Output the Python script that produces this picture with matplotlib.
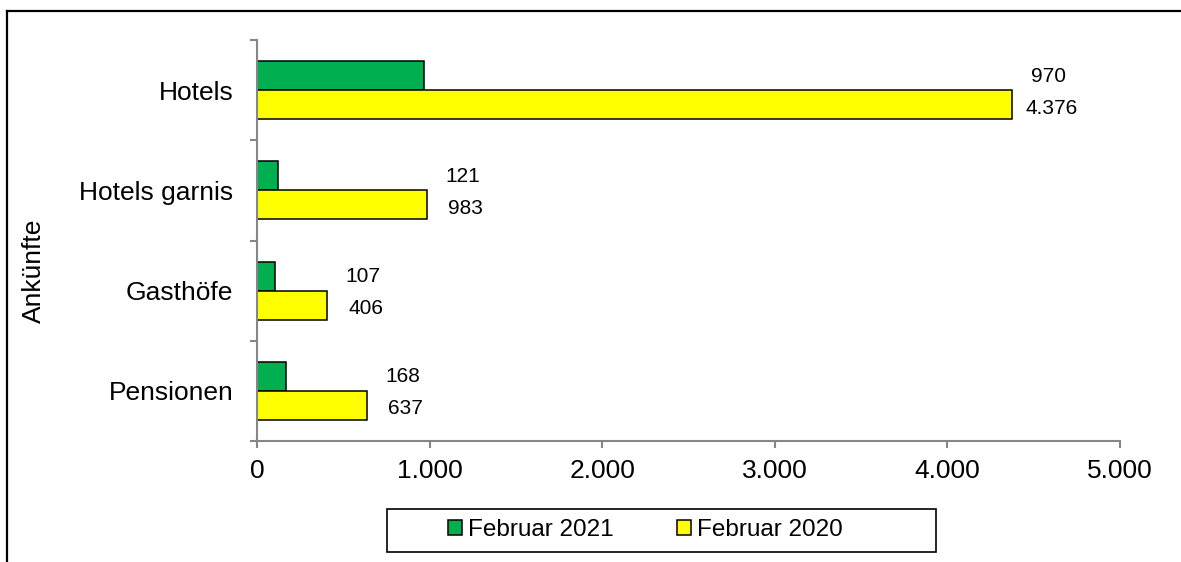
import matplotlib
matplotlib.use("Agg")
import matplotlib.pyplot as plt
import numpy as np
from matplotlib.patches import Patch, Rectangle
from matplotlib.lines import Line2D
from matplotlib.ticker import FuncFormatter

# Daten (Ankünfte)
kategorien = ["Hotels", "Hotels garnis", "Gasthöfe", "Pensionen"]
feb_2021 = [970, 121, 107, 168]
feb_2020 = [4376, 983, 406, 637]
serien = ["Februar 2021", "Februar 2020"]

gruen = "#00B050"
gelb = "#FFFF00"
grau = "#868686"

plt.rcParams['font.family'] = ['Liberation Sans', 'DejaVu Sans']

W, H = 1181, 562
fig = plt.figure(figsize=(W / 100, H / 100), dpi=100)
ax = fig.add_axes([257 / W, 1 - 441 / H, (1120 - 257) / W, (441 - 40) / H])

y = np.arange(len(kategorien))[::-1]
h = 0.29
ax.barh(y + h / 2, feb_2021, height=h, color=gruen, edgecolor="black", linewidth=1.1)
ax.barh(y - h / 2, feb_2020, height=h, color=gelb, edgecolor="black", linewidth=1.1)

def punkt(v):
    return f"{v:,}".replace(",", ".")

# Beschriftungen rechts vom gelben Balken
for yi, a, b in zip(y, feb_2021, feb_2020):
    ax.annotate(punkt(a), xy=(b, yi + 0.14), xytext=(26, 0), textcoords="offset points",
                ha="center", va="center", fontsize=15)
    ax.annotate(punkt(b), xy=(b, yi - 0.18), xytext=(28, 0), textcoords="offset points",
                ha="center", va="center", fontsize=15)

ax.set_xlim(0, 5000)
ax.set_ylim(-0.5, 3.5)
ax.set_xticks([0, 1000, 2000, 3000, 4000, 5000])
ax.xaxis.set_major_formatter(FuncFormatter(lambda v, p: punkt(int(v))))

ax.set_yticks(np.arange(-0.5, 4, 1.0))
ax.set_yticklabels([])
ax.set_yticks(y, minor=True)
ax.set_yticklabels(kategorien, minor=True, fontsize=19)
ax.tick_params(axis="y", which="minor", length=0, pad=17)
ax.tick_params(axis="y", which="major", length=5, color=grau, width=1.5)
ax.tick_params(axis="x", length=5, color=grau, width=1.5, labelsize=19, pad=8)

for s in ["top", "right"]:
    ax.spines[s].set_visible(False)
for s in ["left", "bottom"]:
    ax.spines[s].set_color(grau)
    ax.spines[s].set_linewidth(1.5)

fig.text(34 / W, 1 - 271 / H, "Ankünfte", rotation=90, fontsize=19, ha="center", va="center")

# Legende mit eigenem Rahmen
fig.patches.append(Rectangle((387 / W, 1 - 552 / H), (936 - 387) / W, (552 - 509) / H,
                             transform=fig.transFigure, fill=False, edgecolor="black", linewidth=1.2))
handles = [Patch(facecolor=gruen, edgecolor="black", linewidth=1.1),
           Patch(facecolor=gelb, edgecolor="black", linewidth=1.1)]
fig.legend(handles, serien, loc="center", bbox_to_anchor=(645 / W, 1 - 530 / H), ncol=2,
           frameon=False, fontsize=17.5, handlelength=0.58, handleheight=0.58,
           handletextpad=0.25, columnspacing=2.6)

# Rahmen um die Grafik
fig.lines.append(Line2D([6.5 / W, 6.5 / W], [0, 1 - 10.5 / H], transform=fig.transFigure,
                        color="black", linewidth=1.6))
fig.lines.append(Line2D([6.5 / W, 1], [1 - 10.5 / H, 1 - 10.5 / H], transform=fig.transFigure,
                        color="black", linewidth=1.6))

fig.savefig("out.png", dpi=100)
